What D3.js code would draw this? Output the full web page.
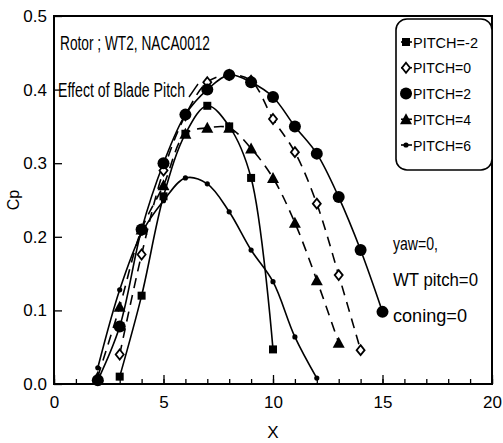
<!DOCTYPE html>
<html>
<head>
<meta charset="utf-8">
<script src="https://cdn.jsdelivr.net/npm/d3@7"></script>
<style>
  body { margin: 0; background: #fff; }
  svg text { font-family: "Liberation Sans", Arial, sans-serif; fill: #000; }
</style>
</head>
<body>
<div id="viz"></div>
<script>
// values
const tsr = {
  m2: [3, 4, 5, 6, 7, 8, 9, 10],
  p0: [3, 4, 5, 6, 7, 8, 9, 10, 11, 12, 13, 14],
  p2: [2, 3, 4, 5, 6, 7, 8, 9, 10, 11, 12, 13, 14, 15],
  p4: [2, 3, 4, 5, 6, 7, 8, 9, 10, 11, 12, 13],
  p6: [2, 3, 4, 5, 6, 7, 8, 9, 10, 11, 12]
};
const cpPitchM2 = [0.01, 0.12, 0.255, 0.34, 0.378, 0.35, 0.28, 0.047];
const cpPitch0  = [0.04, 0.176, 0.29, 0.365, 0.41, 0.42, 0.412, 0.36, 0.315, 0.245, 0.148, 0.046];
const cpPitch2  = [0.005, 0.078, 0.21, 0.30, 0.366, 0.40, 0.42, 0.41, 0.39, 0.35, 0.313, 0.254, 0.182, 0.098];
const cpPitch4  = [0.01, 0.105, 0.21, 0.27, 0.34, 0.348, 0.348, 0.32, 0.28, 0.219, 0.141, 0.056];
const cpPitch6  = [0.022, 0.128, 0.205, 0.249, 0.28, 0.272, 0.234, 0.182, 0.139, 0.064, 0.008];

const xTicks = [0, 5, 10, 15, 20];
const yTicks = [0, 0.1, 0.2, 0.3, 0.4, 0.5];
const notes = ["yaw=0,", "WT pitch=0", "coning=0"];

const series = [
  { name: "PITCH=-2", xs: tsr.m2, ys: cpPitchM2, marker: "square",  dash: null },
  { name: "PITCH=0",  xs: tsr.p0, ys: cpPitch0,  marker: "diamond", dash: "10,7" },
  { name: "PITCH=2",  xs: tsr.p2, ys: cpPitch2,  marker: "circle",  dash: null },
  { name: "PITCH=4",  xs: tsr.p4, ys: cpPitch4,  marker: "triangle", dash: "10,7" },
  { name: "PITCH=6",  xs: tsr.p6, ys: cpPitch6,  marker: "dot",     dash: null }
];

const W = 503, H = 443;
const svg = d3.select('#viz').append('svg').attr('width', W).attr('height', H);

const x = d3.scaleLinear().domain([0, 20]).range([54, 492]);
const y = d3.scaleLinear().domain([0, 0.5]).range([384, 16]);

// frame
svg.append('rect')
  .attr('x', x(0)).attr('y', y(0.5))
  .attr('width', x(20) - x(0)).attr('height', y(0) - y(0.5))
  .attr('fill', 'none').attr('stroke', '#000').attr('stroke-width', 2);

// x axis: minor then major (inward ticks)
const xMinor = svg.append('g').attr('transform', `translate(0,${y(0)})`)
  .call(d3.axisBottom(x).tickValues(d3.range(0, 21, 1)).tickSize(-5).tickFormat(''));
const xMajor = svg.append('g').attr('transform', `translate(0,${y(0)})`)
  .call(d3.axisBottom(x).tickValues(xTicks).tickSize(-9).tickFormat(d3.format('d')));
[xMinor, xMajor].forEach(g => {
  g.select('.domain').remove();
  g.selectAll('line').attr('stroke', '#000').attr('stroke-width', 1.3);
});
xMajor.selectAll('text').style('font-size', '17px').attr('dy', 0).attr('y', 24);

// y axis
const yAx = svg.append('g').attr('transform', `translate(${x(0)},0)`)
  .call(d3.axisLeft(y).tickValues(yTicks).tickSize(-8).tickPadding(7).tickFormat(d3.format('.1f')));
yAx.select('.domain').remove();
yAx.selectAll('line').attr('stroke', '#000').attr('stroke-width', 1.3);
yAx.selectAll('text').style('font-size', '17px');

// axis titles
svg.append('text').attr('x', 273).attr('y', 438).attr('text-anchor', 'middle')
  .style('font-size', '17px').text('X');
svg.append('text').attr('transform', 'translate(19,200) rotate(-90)').attr('text-anchor', 'middle')
  .style('font-size', '16px').text('Cp');

// curves
const line = d3.line().curve(d3.curveCatmullRom.alpha(0.5))
  .x(d => x(d[0])).y(d => y(d[1]));

const plot = svg.append('g');
series.forEach(s => {
  const pts = s.xs.map((v, i) => [v, s.ys[i]]);
  plot.append('path').datum(pts)
    .attr('d', line)
    .attr('fill', 'none').attr('stroke', '#000').attr('stroke-width', 1.6)
    .attr('stroke-dasharray', s.dash);
});

function drawMarker(g, type, cx, cy) {
  if (type === 'square') {
    g.append('rect').attr('x', cx - 4).attr('y', cy - 4).attr('width', 8).attr('height', 8).attr('fill', '#000');
  } else if (type === 'diamond') {
    g.append('path').attr('d', `M${cx},${cy - 5}L${cx + 4},${cy}L${cx},${cy + 5}L${cx - 4},${cy}Z`)
      .attr('fill', '#fff').attr('stroke', '#000').attr('stroke-width', 1.8);
  } else if (type === 'circle') {
    g.append('circle').attr('cx', cx).attr('cy', cy).attr('r', 6).attr('fill', '#000');
  } else if (type === 'triangle') {
    g.append('path').attr('d', `M${cx},${cy - 6}L${cx + 6},${cy + 5}L${cx - 6},${cy + 5}Z`).attr('fill', '#000');
  } else {
    g.append('circle').attr('cx', cx).attr('cy', cy).attr('r', 2.6).attr('fill', '#000');
  }
}

series.forEach(s => {
  s.xs.forEach((v, i) => drawMarker(plot, s.marker, x(v), y(s.ys[i])));
});

// annotations
svg.append('text').attr('x', 60).attr('y', 50).style('font-size', '21px')
  .attr('textLength', 150).attr('lengthAdjust', 'spacingAndGlyphs').text('Rotor ; WT2, NACA0012');
svg.append('text').attr('x', 58).attr('y', 97).style('font-size', '20px')
  .attr('textLength', 127).attr('lengthAdjust', 'spacingAndGlyphs').text('Effect of Blade Pitch');
svg.append('line').attr('x1', 189).attr('y1', 97).attr('x2', 198).attr('y2', 84)
  .attr('stroke', '#000').attr('stroke-width', 1.4);

const noteY = [250, 286, 322];
const noteW = [45, 85, 74];
notes.forEach((t, i) => {
  svg.append('text').attr('x', 393).attr('y', noteY[i]).style('font-size', '19px')
    .attr('textLength', noteW[i]).attr('lengthAdjust', 'spacingAndGlyphs').text(t);
});

// legend
const lg = svg.append('g');
lg.append('rect').attr('x', 396).attr('y', 19).attr('width', 96).attr('height', 151)
  .attr('rx', 11).attr('fill', '#fff').attr('stroke', '#000').attr('stroke-width', 1.6);
const legY = d3.scaleLinear().domain([0, 4]).range([42, 145]);
series.forEach((s, i) => {
  const cy = legY(i);
  lg.append('line').attr('x1', 401).attr('x2', 412).attr('y1', cy).attr('y2', cy)
    .attr('stroke', '#000').attr('stroke-width', 1.6);
  drawMarker(lg, s.marker, 406, cy);
  lg.append('text').attr('x', 413).attr('y', cy + 5.5).style('font-size', '15px')
    .attr('textLength', s.name.length > 7 ? 65 : 58).attr('lengthAdjust', 'spacingAndGlyphs').text(s.name);
});
</script>
</body>
</html>
